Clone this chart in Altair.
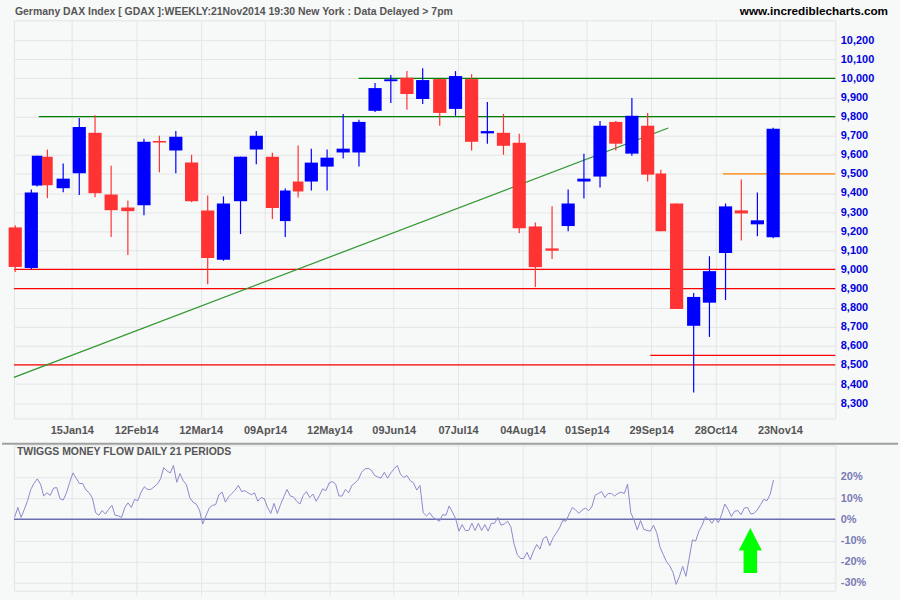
import altair as alt
import pandas as pd

FONT = "Liberation Sans"
BG = "#F7F8F8"

# ---------------- data ----------------
# weekly candles; x = position in trading days
week_pos = [0.4, 5.4, 7.2, 10.4, 15.3, 20.3, 25.2, 30.2, 35.4, 40.4, 45.2, 50.3, 55.2, 60.2,
            65.1, 70.4, 75.3, 80.3, 84.3, 88.3, 92.4, 97.3, 102.3, 107.2, 112.2, 117.1, 122.1,
            127.0, 132.3, 137.2, 142.2, 147.1, 152.1, 157.0, 162.0, 167.2, 172.2, 177.1, 182.1,
            187.0, 192.0, 196.9, 201.0, 205.9, 211.2, 216.1, 221.1, 226.0, 231.0, 235.9]
trade_days = [5, 5, 4, 4, 5, 5, 5, 5, 5, 5, 5, 5, 5, 5, 5, 5, 5, 5, 4, 4, 5, 5, 5, 5, 5, 5, 5,
              5, 5, 5, 5, 5, 5, 5, 5, 5, 5, 5, 5, 5, 5, 5, 4, 5, 5, 5, 5, 5, 5, 5]
opens = [9220, 9008, 9439, 9590, 9425, 9503, 9715, 9392, 9324, 9336, 9672, 9623, 9559, 9309,
         9050, 9357, 9628, 9590, 9253, 9460, 9460, 9538, 9612, 9612, 9830, 9985, 10003, 9892,
         9996, 9840, 9996, 9712, 9715, 9663, 9225, 9110, 9227, 9460, 9486, 9772, 9606, 9752,
         9502, 9345, 8705, 8826, 9086, 9309, 9236, 9168]
highs = [9231, 9418, 9595, 9627, 9554, 9793, 9807, 9543, 9361, 9684, 9700, 9725, 9600, 9387,
         9382, 9590, 9725, 9611, 9423, 9648, 9632, 9627, 9814, 9783, 9976, 10017, 10038, 10053,
         9996, 10038, 10022, 9876, 9814, 9710, 9246, 9330, 9418, 9606, 9777, 9777, 9897, 9819,
         9522, 9345, 8877, 9069, 9345, 9470, 9402, 9741]
lows = [8987, 9001, 9434, 9373, 9404, 9389, 9378, 9170, 9076, 9284, 9508, 9503, 9352, 8922,
        9045, 9185, 9550, 9264, 9170, 9377, 9413, 9413, 9580, 9538, 9824, 9871, 9835, 9866,
        9752, 9804, 9622, 9658, 9600, 9189, 8908, 9054, 9200, 9371, 9429, 9622, 9595, 9460,
        9200, 8793, 8356, 8647, 8840, 9152, 9173, 9163]
closes = [9013, 9402, 9595, 9441, 9475, 9746, 9399, 9310, 9305, 9668, 9664, 9694, 9357, 9060,
          9345, 9590, 9700, 9321, 9413, 9408, 9559, 9585, 9632, 9772, 9949, 9995, 9918, 9991,
          9819, 10012, 9668, 9724, 9647, 9215, 9012, 9098, 9345, 9475, 9752, 9658, 9804, 9496,
          9200, 8793, 8856, 8991, 9330, 9293, 9257, 9736]

x_tick_pos = [18, 38, 58, 78, 98, 118, 138, 158, 178, 198, 218, 238]
x_tick_labels = ["15Jan14", "12Feb14", "12Mar14", "09Apr14", "12May14", "09Jun14",
                 "07Jul14", "04Aug14", "01Sep14", "29Sep14", "28Oct14", "23Nov14"]
price_ticks = [8300, 8400, 8500, 8600, 8700, 8800, 8900, 9000, 9100, 9200, 9300, 9400,
               9500, 9600, 9700, 9800, 9900, 10000, 10100, 10200]
mf_ticks = [-30, -20, -10, 0, 10, 20]

# horizontal support / resistance lines
level_price = [9800, 10000, 9000, 8900, 8500, 8550, 9500]
level_from = [7.7, 107.1, 0.0, 0.0, 0.0, 197.7, 220.3]
level_color = ["#008000", "#008000", "#FF0000", "#FF0000", "#FF0000", "#FF0000", "#FF8000"]
# trend line
trend_pos = [0.0, 203.3]
trend_price = [8435, 9740]

# Twiggs money flow (daily, %)
mf_values = [
    0.9, 5.6, 0.9, 4.7, 8.8, 14.1, 17.0, 19.1, 16.6, 11.0, 12.5, 11.3, 14.7, 15.0, 9.7, 9.1,
    12.5, 17.5, 21.9, 19.4, 16.9, 16.9, 13.8, 12.5, 10.0, 3.1, 1.9, 4.1, 2.5, 4.7, 6.6, 1.9,
    1.6, 0.9, 5.6, 7.8, 5.6, 9.4, 8.8, 12.8, 15.3, 14.1, 14.1, 15.3, 16.6, 19.1, 24.4, 22.8,
    21.9, 25.4, 17.5, 21.6, 18.2, 16.3, 10.3, 8.1, 7.2, 4.4, -2.2, 1.6, 5.3, 6.6, 6.9, 11.6,
    12.8, 8.1, 10.6, 12.2, 13.8, 16.0, 13.1, 13.5, 12.5, 11.6, 12.5, 8.5,
    10.3, 9.7, 5.6, 2.8, 7.5, 2.8, 6.9, 10.6, 14.1, 11.0, 10.6, 8.5, 7.2, 11.3, 13.1, 10.3,
    11.9, 8.5, 11.3, 14.4, 13.5, 17.2, 17.8, 16.6, 11.0, 11.0, 14.1, 12.5, 16.0, 17.2, 18.8,
    22.2, 23.8, 24.1, 23.2, 20.7, 20.0, 19.4, 22.2, 19.4, 21.9, 23.8, 25.4, 21.3, 19.7, 20.7,
    18.2, 17.2, 13.8, 16.0, 3.1, 1.6, 3.1, 0.9, 0.0, -0.9, 2.2, 1.9, 6.3, 3.4, 0.3, -5.6,
    -2.5, -5.3, -5.3, -1.9, -5.3, -1.9, -5.3, -2.5, -5.6, -1.9, -1.9, 0.9, -2.8, -2.2, -0.9,
    -3.4, -11.6,
    -16.6, -18.5, -18.5, -15.6, -19.1, -15.0, -11.9, -14.1, -9.1, -8.1, -12.5, -8.8, -6.6,
    -4.1, -0.6, -0.9, 2.5, 5.6, 4.4, 2.8, 4.4, 5.3, 4.1, 5.9, 11.3, 12.2, 13.1, 10.3, 12.2,
    12.2, 11.0, 12.2, 12.8, 12.2, 16.6, 3.1, -0.3, -5.0, -0.6, -4.7, -5.3, -5.6, -2.8, -6.3,
    -13.1, -16.6, -20.0, -21.9, -25.0, -30.7, -26.9, -22.2, -26.9, -18.5, -9.7, -10.3, -5.6,
    -2.8, 1.3, 0.0, -1.9, 0.6, -1.6, 2.2, 7.2, 4.7, 1.3, 3.8, 4.1, 2.2, 5.3, 5.6, 2.5, 2.8,
    4.4, 6.9, 9.4, 8.8, 11.9, 18.5]
mf_first_day, mf_last_day = 0.2, 236.0

arrow_pos = [228.8]
arrow_level = [-14.7]

title_text = "Germany DAX Index [ GDAX ]:WEEKLY:21Nov2014 19:30 New York : Data Delayed > 7pm"
site_text = "www.incrediblecharts.com"
panel_text = "TWIGGS MONEY FLOW DAILY 21 PERIODS"

X_MAX = 255.2

# ---------------- tables ----------------
cdf = pd.DataFrame({"t": week_pos, "days": trade_days, "open": opens, "high": highs,
                    "low": lows, "close": closes})
half = (0.8 * cdf["days"] + 0.1) / 2
cdf["x1"] = cdf["t"] - half
cdf["x2"] = cdf["t"] + half
cdf["col"] = ["#0000FF" if c >= o else "#FF3333" for o, c in zip(opens, closes)]

ldf = pd.DataFrame({"price": level_price, "x1": level_from, "x2": [X_MAX] * len(level_price),
                    "col": level_color})
tdf = pd.DataFrame({"t": trend_pos, "price": trend_price})
n = len(mf_values)
step = (mf_last_day - mf_first_day) / (n - 1)
mdf = pd.DataFrame({"t": [mf_first_day + i * step for i in range(n)], "mf": mf_values})
adf = pd.DataFrame({"t": arrow_pos, "mf": arrow_level})
one = pd.DataFrame({"a": [0]})

# ---------------- scales / axes ----------------
xs = alt.Scale(domain=[0, X_MAX], nice=False, zero=False)
ys = alt.Scale(domain=[8220, 10304], nice=False, zero=False)
ms = alt.Scale(domain=[-33.7, 34.9], nice=False, zero=False)

label_expr = "[" + ",".join("'%s'" % s for s in x_tick_labels) + "][round((datum.value - 18) / 20)]"
GRID = "#E4E6E6"

x_axis_top = alt.Axis(values=x_tick_pos, labelExpr=label_expr, title=None, grid=True,
                      gridColor=GRID, domain=False, ticks=False, labelFont=FONT,
                      labelFontSize=11, labelFontWeight="bold", labelColor="#555555",
                      labelPadding=6, labelOverlap=False, labelAngle=0)
y_axis_top = alt.Axis(values=price_ticks, labelExpr="format(datum.value, ',')",
                      orient="right", title=None, grid=True,
                      gridColor=GRID, domain=False, ticks=False, labelFont=FONT,
                      labelFontSize=11, labelFontWeight="bold", labelColor="#0000DD",
                      labelPadding=5, labelOverlap=False)
x_axis_bot = alt.Axis(values=x_tick_pos, labels=False, title=None, grid=True, gridColor=GRID,
                      domain=False, ticks=True, tickSize=5, tickColor=GRID)
y_axis_bot = alt.Axis(values=mf_ticks, labelExpr="datum.value + '%'", orient="right",
                      title=None, grid=True, gridColor=GRID, domain=False, ticks=False,
                      labelFont=FONT, labelFontSize=11, labelFontWeight="bold",
                      labelColor="#7A7AB4", labelPadding=5, labelOverlap=False)

# ---------------- upper panel ----------------
wicks = alt.Chart(cdf).mark_rule(strokeWidth=1.2).encode(
    x=alt.X("t:Q", scale=xs, axis=x_axis_top),
    y=alt.Y("low:Q", scale=ys, axis=y_axis_top),
    y2="high:Q",
    color=alt.Color("col:N", scale=None),
)
bodies = alt.Chart(cdf).mark_rect().encode(
    x=alt.X("x1:Q", scale=xs, axis=x_axis_top),
    x2="x2:Q",
    y=alt.Y("open:Q", scale=ys, axis=y_axis_top),
    y2="close:Q",
    color=alt.Color("col:N", scale=None),
)
levels = alt.Chart(ldf).mark_rule(strokeWidth=1.3).encode(
    x=alt.X("x1:Q", scale=xs, axis=x_axis_top),
    x2="x2:Q",
    y=alt.Y("price:Q", scale=ys, axis=y_axis_top),
    color=alt.Color("col:N", scale=None),
)
trend = alt.Chart(tdf).mark_line(color="#2E962E", strokeWidth=1.2).encode(
    x=alt.X("t:Q", scale=xs, axis=x_axis_top),
    y=alt.Y("price:Q", scale=ys, axis=y_axis_top),
)
frame = alt.Chart(one).mark_rule(opacity=0).encode(
    x=alt.value(-12), y=alt.value(-18), y2=alt.value(0))
title_mark = alt.Chart(one).mark_text(
    text=title_text, align="left", baseline="alphabetic", font=FONT, fontSize=10.5,
    fontWeight="bold", color="#555555").encode(x=alt.value(1), y=alt.value(-5))
site_mark = alt.Chart(one).mark_text(
    text=site_text, align="right", baseline="alphabetic", font=FONT, fontSize=11.8,
    fontWeight="bold", color="#000000").encode(x=alt.value(878), y=alt.value(-5))

top = alt.layer(levels, trend, wicks, bodies, frame, title_mark, site_mark).properties(
    width=825, height=400)

# ---------------- lower panel ----------------
zero = alt.Chart(pd.DataFrame({"mf": [0]})).mark_rule(color="#6C6CB0", strokeWidth=1.5).encode(
    y=alt.Y("mf:Q", scale=ms, axis=y_axis_bot))
mf_line = alt.Chart(mdf).mark_line(color="#8A8ACC", strokeWidth=1).encode(
    x=alt.X("t:Q", scale=xs, axis=x_axis_bot),
    y=alt.Y("mf:Q", scale=ms, axis=y_axis_bot),
)
arrow_shape = "M0,-1 L0.51,0 L0.3,0 L0.3,1 L-0.3,1 L-0.3,0 L-0.51,0 Z"
arrow = alt.Chart(adf).mark_point(shape=arrow_shape, filled=True, size=2052, opacity=1,
                                  color="#00FF00", strokeWidth=0).encode(
    x=alt.X("t:Q", scale=xs, axis=x_axis_bot),
    y=alt.Y("mf:Q", scale=ms, axis=y_axis_bot),
)
panel_mark = alt.Chart(one).mark_text(
    text=panel_text, align="left", baseline="middle", font=FONT, fontSize=10.5,
    fontWeight="bold", color="#555555").encode(x=alt.value(3), y=alt.value(7))
separator = alt.Chart(one).mark_rule(color="#A0A0A0", strokeWidth=2).encode(
    x=alt.value(-12), x2=alt.value(888), y=alt.value(-1.5))
bottom_frame = alt.Chart(one).mark_rule(opacity=0).encode(
    x=alt.value(-12), y=alt.value(140), y2=alt.value(155))

bottom = alt.layer(zero, mf_line, arrow, panel_mark, separator, bottom_frame).properties(
    width=825, height=146)

chart = alt.vconcat(top, bottom, spacing=27, bounds="flush").properties(
    padding=0, background=BG
).configure_view(stroke="#E2E4E4", fill=BG)

chart.save("out.html", embed_options={"renderer": "svg", "actions": False})
